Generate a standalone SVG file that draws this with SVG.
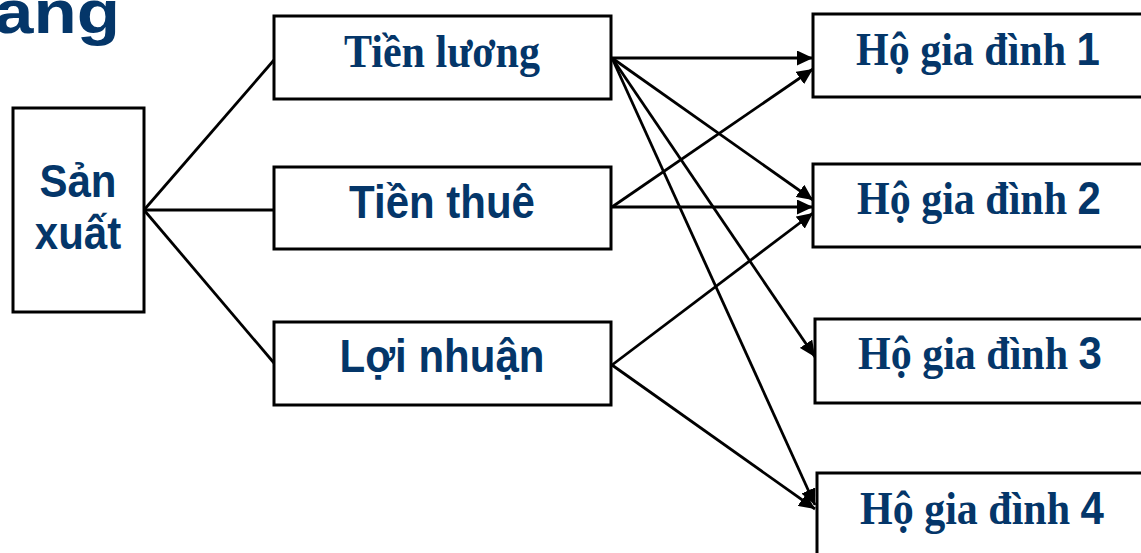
<svg xmlns="http://www.w3.org/2000/svg" width="1141" height="553" viewBox="0 0 1141 553">
<style>
.box{fill:#fff;stroke:#000;stroke-width:3}
.sans{font-family:"Liberation Sans",Arial,sans-serif;font-weight:bold;fill:#043669}
.serif{font-family:"Liberation Serif","Times New Roman",serif;font-weight:bold;fill:#043669}
.con line{stroke:#000;stroke-width:2.8}
.arr{marker-end:url(#ah)}
</style>
<defs>
<marker id="ah" markerUnits="userSpaceOnUse" markerWidth="17" markerHeight="15" refX="16" refY="7.5" orient="auto">
<path d="M0,0 L16,7.5 L0,15 z" fill="#000"/>
</marker>
</defs>
<rect width="1141" height="553" fill="#fff"/>
<text class="sans" x="-6" y="33" font-size="62" textLength="126" lengthAdjust="spacingAndGlyphs">ang</text>

<g class="con">
<line x1="144" y1="210" x2="274" y2="60"/>
<line x1="144" y1="210" x2="274" y2="210"/>
<line x1="144" y1="210" x2="274" y2="363"/>
<line class="arr" x1="612" y1="58" x2="813" y2="58"/>
<line class="arr" x1="612" y1="58" x2="813" y2="200"/>
<line class="arr" x1="612" y1="58" x2="815" y2="357"/>
<line class="arr" x1="612" y1="58" x2="815" y2="505"/>
<line class="arr" x1="612" y1="207" x2="813" y2="69"/>
<line class="arr" x1="612" y1="207" x2="813" y2="207"/>
<line class="arr" x1="612" y1="365" x2="813" y2="213"/>
<line class="arr" x1="612" y1="365" x2="815" y2="509"/>
</g>

<g id="san-xuat">
<rect class="box" x="13" y="108" width="131" height="204"/>
<text class="sans" transform="translate(78,197) scale(1,1.08)" font-size="42" text-anchor="middle">Sản</text>
<text class="sans" transform="translate(78,249) scale(1,1.08)" font-size="42" text-anchor="middle">xuất</text>
</g>
<g id="tien-luong">
<rect class="box" x="274" y="16" width="337" height="83"/>
<text class="serif" transform="translate(442,67) scale(1,1.08)" font-size="42" text-anchor="middle">Tiền lương</text>
</g>
<g id="tien-thue">
<rect class="box" x="274" y="167" width="337" height="82"/>
<text class="sans" transform="translate(442,218) scale(1,1.08)" font-size="42" text-anchor="middle">Tiền thuê</text>
</g>
<g id="loi-nhuan">
<rect class="box" x="274" y="322" width="337" height="83"/>
<text class="sans" transform="translate(442,372) scale(1,1.08)" font-size="42" text-anchor="middle">Lợi nhuận</text>
</g>
<g id="ho1">
<rect class="box" x="813" y="14" width="345" height="83"/>
<text class="serif" transform="translate(856,65) scale(1,1.08)" font-size="42">Hộ gia đình <tspan class="sans">1</tspan></text>
</g>
<g id="ho2">
<rect class="box" x="813" y="164" width="345" height="83"/>
<text class="serif" transform="translate(857,214) scale(1,1.08)" font-size="42">Hộ gia đình <tspan class="sans">2</tspan></text>
</g>
<g id="ho3">
<rect class="box" x="815" y="319" width="345" height="84"/>
<text class="serif" transform="translate(858,369) scale(1,1.08)" font-size="42">Hộ gia đình <tspan class="sans">3</tspan></text>
</g>
<g id="ho4">
<rect class="box" x="817" y="473" width="345" height="90"/>
<text class="serif" transform="translate(860,524) scale(1,1.08)" font-size="42">Hộ gia đình <tspan class="sans">4</tspan></text>
</g>
</svg>
